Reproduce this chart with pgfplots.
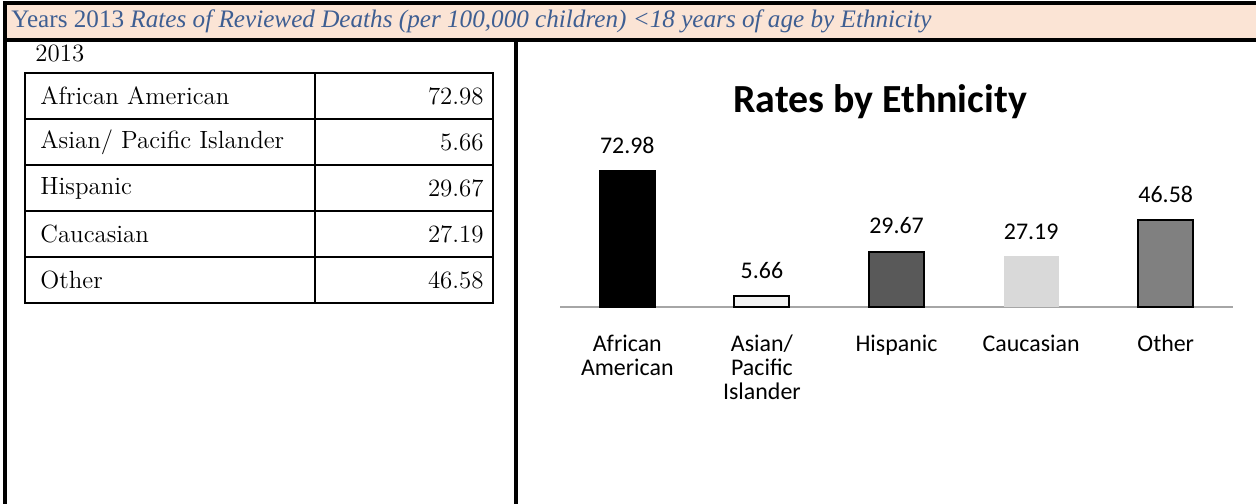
\documentclass[border=0pt]{standalone}
\usepackage{fontspec}
\setsansfont{Carlito}
\newfontfamily\hdrfont{Liberation Serif}
\usepackage{graphicx}
\usepackage{pgfplots}
\pgfplotsset{compat=1.18}
\definecolor{hdr}{HTML}{FBE4D5}
\definecolor{hdrtext}{RGB}{62,94,146}
\definecolor{cB}{HTML}{F2F2F2}
\definecolor{cC}{HTML}{595959}
\definecolor{cD}{HTML}{D9D9D9}
\definecolor{cE}{HTML}{808080}
\definecolor{axisgray}{HTML}{A6A6A6}
\begin{document}
\begin{tikzpicture}[x=0.5bp,y=0.5bp]
\useasboundingbox (0,0) rectangle (1256,504);
\fill[white] (0,0) rectangle (1256,504);
\fill[hdr] (5,501) rectangle (1260,464);
\draw[line width=1.6bp] (1262,501) -- (5,501) -- (5,-2);
\draw[line width=1.6bp] (5,464) -- (1262,464);
\draw[line width=1.6bp] (516,464) -- (516,-2);
\node[anchor=west, text=hdrtext, inner sep=0] at (11,483) {\resizebox{460bp}{!}{\hdrfont Years 2013 \itshape Rates of Reviewed Deaths (per 100,000 children) <18 years of age by Ethnicity}};
% table
\node[anchor=west, inner sep=0] at (35,451) {\fontsize{12.5}{14}\selectfont 2013};
\draw[line width=1bp] (25,431) rectangle (493,201);
\foreach \yy in {385,339,293,247} {\draw[line width=1bp] (25,\yy) -- (493,\yy);}
\draw[line width=1bp] (315,431) -- (315,201);
\foreach \yy/\lab/\val in {408/{African American}/72.98, 362/{Asian/ Pacific Islander}/5.66, 316/{Hispanic}/29.67, 270/{Caucasian}/27.19, 224/{Other}/46.58} {
  \node[anchor=west, inner sep=0] at (40,\yy) {\fontsize{12.5}{14}\selectfont \lab};
  \node[anchor=east, inner sep=0] at (484,\yy) {\fontsize{12.5}{14}\selectfont \val};
}
% chart
\node at (880,402) {\sffamily\bfseries\fontsize{20}{24}\selectfont Rates by Ethnicity};
\begin{axis}[
  at={(280bp,98.5bp)}, anchor=south west,
  scale only axis, width=336.5bp, height=74.5bp,
  xmin=-0.5, xmax=4.5, ymin=0, ymax=80,
  axis x line*=bottom, axis y line=none,
  x axis line style={axisgray, line width=0.8bp, -},
  xtick={0,1,2,3,4},
  xticklabels={{African\\American},{Asian/\\Pacific\\Islander},{Hispanic},{Caucasian},{Other}},
  xticklabel style={font=\sffamily\fontsize{12}{12}\selectfont, align=center, yshift=-10.5bp},
  major tick length=0pt,
  ybar, bar width=27.5bp,
  clip=false,
  /pgf/number format/assume math mode=true,
  nodes near coords={\pgfmathprintnumber[fixed,precision=2,fixed zerofill]{\pgfplotspointmeta}},
  nodes near coords style={font=\sffamily\fontsize{12}{14}\selectfont, text=black, yshift=5bp},
  every axis plot/.append style={bar shift=0pt},
]
\addplot[fill=black, draw=black, line width=1bp] coordinates {(0,72.98)};
\addplot[fill=cB, draw=black, line width=1bp] coordinates {(1,5.66)};
\addplot[fill=cC, draw=black, line width=1bp] coordinates {(2,29.67)};
\addplot[fill=cD, draw=none] coordinates {(3,27.19)};
\addplot[fill=cE, draw=black, line width=1bp] coordinates {(4,46.58)};
\end{axis}
\end{tikzpicture}
\end{document}
